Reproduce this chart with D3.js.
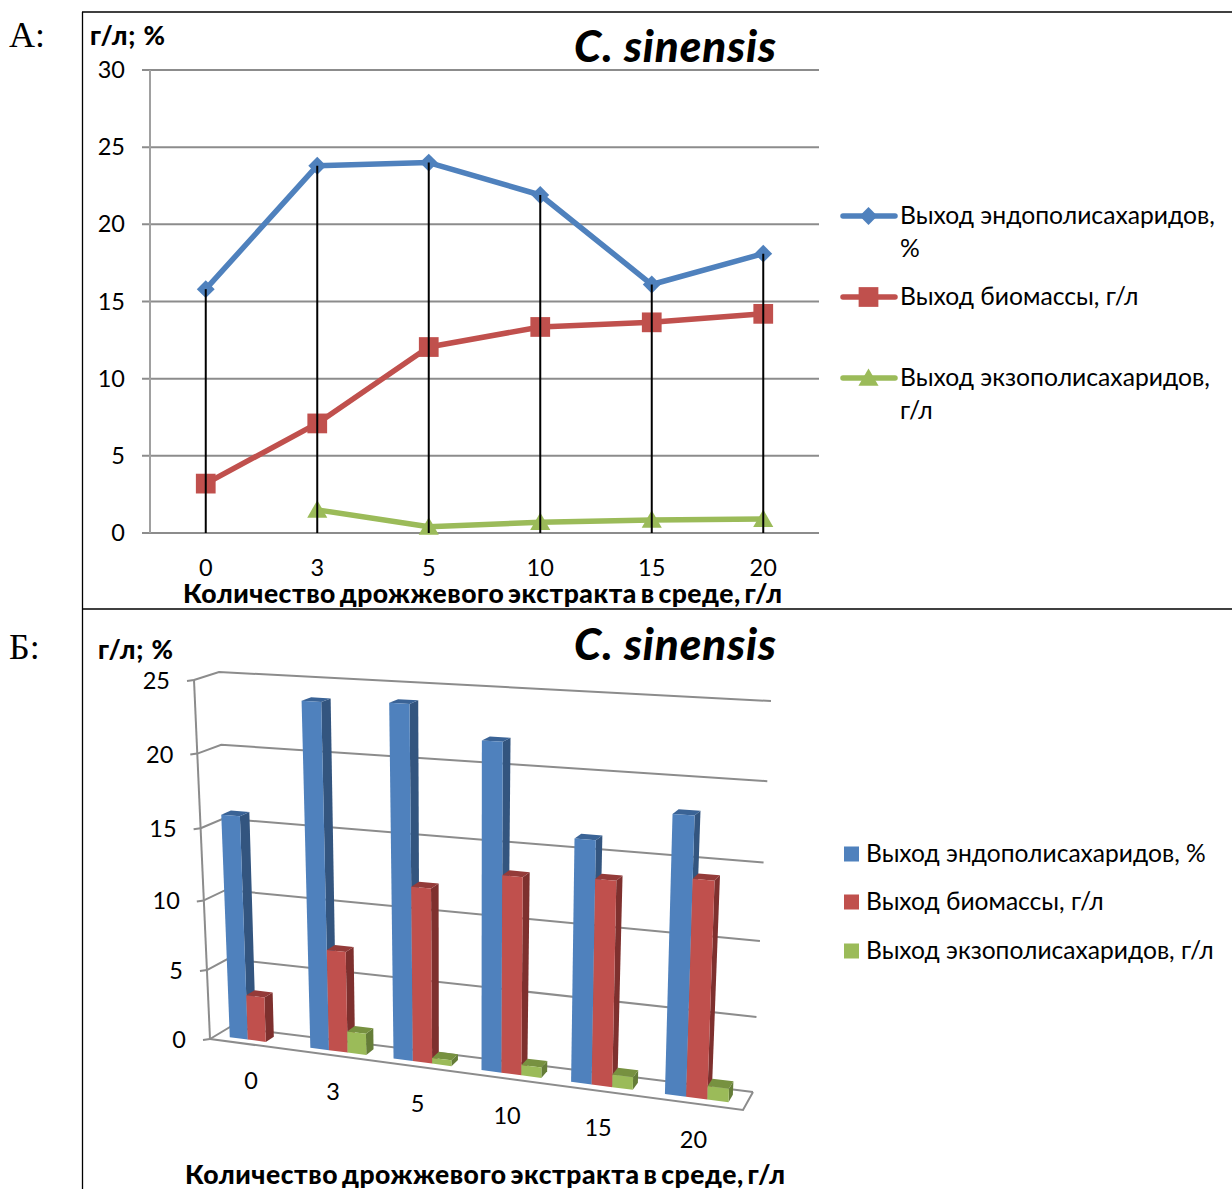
<!DOCTYPE html>
<html lang="ru">
<head>
<meta charset="utf-8">
<title>C. sinensis</title>
<script src="https://cdn.jsdelivr.net/npm/d3@7"></script>
<style>
  html, body { margin: 0; padding: 0; background: #fff; }
  svg { display: block; }
  text { font-family: Lato, "Noto Sans", "Open Sans", sans-serif; fill: #000; }
</style>
</head>
<body>
<svg id="chart" width="1232" height="1189"></svg>
<script>
// Yeast extract in the medium, g/l
const categories = ["0", "3", "5", "10", "15", "20"];

// Yields per category
const endoYield = [15.8, 23.8, 24.0, 21.9, 16.1, 18.1];
const biomassYield = [3.2, 7.1, 12.05, 13.35, 13.65, 14.2];
const exoYield = [null, 1.5, 0.4, 0.7, 0.85, 0.9];

const seriesNames = ["Выход эндополисахаридов, %", "Выход биомассы, г/л", "Выход экзополисахаридов, г/л"];
const lineTicks = [0, 5, 10, 15, 20, 25, 30];
const barTicks = [0, 5, 10, 15, 20, 25];

const xTitle = "Количество дрожжевого экстракта в среде, г/л";
const yTitle = "г/л; %";
const species = "C. sinensis";

const seriesValues = [endoYield, biomassYield, exoYield];
const faceColors = ["#4f81bd", "#c0504d", "#9bbb59"];
const sideColors = ["#33557f", "#7e302e", "#657d38"];
const topColors = ["#3a6396", "#943b39", "#779140"];
const GRID = "#8c8c8c";

const svg = d3.select("#chart");

// Frame rules and panel letters
const frame = svg.append("g").attr("stroke", "#000").attr("stroke-width", 1.3);
frame.append("line").attr("x1", 82.5).attr("x2", 82.5).attr("y1", 12).attr("y2", 1189);
frame.append("line").attr("x1", 82).attr("x2", 1232).attr("y1", 12).attr("y2", 12);
frame.append("line").attr("x1", 82).attr("x2", 1232).attr("y1", 609).attr("y2", 609);

[["А:", 47], ["Б:", 659]].forEach(([t, base]) => {
  svg.append("text").attr("x", 9).attr("y", base).text(t)
    .style("font-family", '"Liberation Serif", serif').style("font-size", "36px");
});

function heading(x, y) {
  svg.append("text").attr("x", x).attr("y", y).text(species)
    .attr("textLength", 202).attr("lengthAdjust", "spacing")
    .style("font-weight", 900).style("font-style", "italic").style("font-size", "44px");
}

function axisTitle(x, y, width) {
  svg.append("text").attr("x", x).attr("y", y).text(xTitle)
    .attr("textLength", width).attr("lengthAdjust", "spacing")
    .style("word-spacing", "-3px")
    .style("font-weight", 900).style("font-size", "26.5px");
}

/* ---------- Panel A: line chart with drop lines ---------- */
const xA = d3.scaleBand().domain(categories).range([150, 819]);
const yA = d3.scaleLinear().domain([0, 30]).range([533, 70]);
const cx = c => xA(c) + xA.bandwidth() / 2;

const gridA = svg.append("g");
gridA.selectAll("line.h").data(lineTicks).join("line")
  .attr("x1", 142).attr("x2", 819)
  .attr("y1", d => yA(d)).attr("y2", d => yA(d))
  .attr("stroke", GRID).attr("stroke-width", 2);
gridA.append("line").attr("x1", 150).attr("x2", 150).attr("y1", yA(30)).attr("y2", yA(0))
  .attr("stroke", "#a0a0a0").attr("stroke-width", 2);

svg.append("g").selectAll("text").data(lineTicks).join("text")
  .attr("x", 125).attr("y", d => yA(d) + 8).attr("text-anchor", "end")
  .style("font-size", "23.5px").text(d => d);
svg.append("g").selectAll("text").data(categories).join("text")
  .attr("x", cx).attr("y", 576).attr("text-anchor", "middle")
  .style("font-size", "23.5px").text(d => d);

const lineGen = d3.line().defined(d => d.v != null).x(d => cx(d.c)).y(d => yA(d.v));
const markerOf = i => {
  if (i === 0) return d3.symbol().type(d3.symbolSquare).size(160)();
  if (i === 1) return d3.symbol().type(d3.symbolSquare).size(390)();
  return d3.symbol().type(d3.symbolTriangle).size(175)();
};
const markerTf = i => i === 0 ? " rotate(45)" : i === 2 ? " translate(0,2)" : "";

seriesValues.forEach((vals, i) => {
  const pts = vals.map((v, k) => ({ c: categories[k], v }));
  const g = svg.append("g");
  g.append("path").datum(pts).attr("d", lineGen).attr("fill", "none")
    .attr("stroke", faceColors[i]).attr("stroke-width", 5.5).attr("stroke-linejoin", "round");
  g.selectAll("path.m").data(pts.filter(p => p.v != null)).join("path").attr("class", "m")
    .attr("d", markerOf(i)).attr("fill", faceColors[i])
    .attr("transform", d => `translate(${cx(d.c)},${yA(d.v)})${markerTf(i)}`);
});

// High-low lines from the largest value in each category to the axis
svg.append("g").selectAll("line").data(categories).join("line")
  .attr("x1", cx).attr("x2", cx)
  .attr("y1", (c, k) => yA(d3.max(seriesValues, s => s[k])))
  .attr("y2", yA(0))
  .attr("stroke", "#000").attr("stroke-width", 2);

svg.append("text").attr("x", 90).attr("y", 45).text(yTitle)
  .attr("textLength", 75).attr("lengthAdjust", "spacing")
  .style("font-weight", 900).style("font-size", "26px");
heading(574, 62);
axisTitle(183, 603, 599);

// Legend of panel A
const legendA = [
  { y: 216, lines: ["Выход эндополисахаридов,", "%"], i: 0 },
  { y: 297, lines: ["Выход биомассы, г/л"], i: 1 },
  { y: 378, lines: ["Выход экзополисахаридов,", "г/л"], i: 2 }
];
const legA = svg.append("g");
legendA.forEach(({ y, lines, i }) => {
  legA.append("line").attr("x1", 843).attr("x2", 895).attr("y1", y).attr("y2", y)
    .attr("stroke", faceColors[i]).attr("stroke-width", 5.5).attr("stroke-linecap", "round");
  legA.append("path").attr("d", markerOf(i)).attr("fill", faceColors[i])
    .attr("transform", `translate(868.5,${y})${markerTf(i)}`);
  lines.forEach((t, n) => {
    legA.append("text").attr("x", 900).attr("y", y + 8 + n * 33).text(t).style("font-size", "24.7px");
  });
});

/* ---------- Panel B: 3-D clustered columns, built on a trilinear box ---------- */
const box = {
  fl0: [210, 1039], flT: [194, 680],
  bl0: [230, 1027], blT: [219, 672],
  br0: [753, 1092], brT: [771, 701],
  fr0: [743, 1110], frT: [757, 710]
};
// Axis spacing narrows slightly towards zero under the perspective
const heightOf = d3.scaleLinear().domain(barTicks).range([0, 0.192, 0.386, 0.587, 0.795, 1]);
const lerp = (a, b, t) => [a[0] + (b[0] - a[0]) * t, a[1] + (b[1] - a[1]) * t];

function project(u, v, value) {
  const w = heightOf(value);
  const bottom = lerp(lerp(box.fl0, box.fr0, u), lerp(box.bl0, box.br0, u), v);
  const top = lerp(lerp(box.flT, box.frT, u), lerp(box.blT, box.brT, u), v);
  return lerp(bottom, top, w);
}

const groupStart = d3.scaleOrdinal().domain(categories).range([0.026, 0.178, 0.335, 0.501, 0.670, 0.847]);
const barWidth = d3.scaleLinear().domain([0, 5]).range([0.034, 0.040]);
const V0 = 0.3, V1 = 0.72;

const wall = svg.append("g").attr("fill", "none").attr("stroke", GRID).attr("stroke-width", 2);
const pathOf = pts => "M" + pts.map(p => p.join(",")).join("L");
barTicks.forEach(t => {
  wall.append("path").attr("d", pathOf([project(0, 0, t), project(0, 1, t), project(1, 1, t)]));
  const a = project(0, 0, t);
  wall.append("path").attr("d", pathOf([[a[0] - 7, a[1] + 1], a]));
});
wall.append("path").attr("d", pathOf([project(0, 0, 0), project(0, 0, 25)]));
wall.append("path").attr("d", pathOf([project(0, 0, 0), project(1, 0, 0), project(1, 1, 0)]));

const bars = svg.append("g");
categories.forEach((c, k) => {
  const w = barWidth(k);
  seriesValues.forEach((vals, s) => {
    const val = vals[k];
    if (val == null) return;
    const u0 = groupStart(c) + s * w, u1 = u0 + w;
    const g = bars.append("g");
    g.append("path").attr("fill", sideColors[s]).attr("d", pathOf([
      project(u1, V0, 0), project(u1, V1, 0), project(u1, V1, val), project(u1, V0, val)]) + "Z");
    g.append("path").attr("fill", topColors[s]).attr("d", pathOf([
      project(u0, V0, val), project(u1, V0, val), project(u1, V1, val), project(u0, V1, val)]) + "Z");
    g.append("path").attr("fill", faceColors[s]).attr("d", pathOf([
      project(u0, V0, 0), project(u1, V0, 0), project(u1, V0, val), project(u0, V0, val)]) + "Z");
  });
});

svg.append("g").selectAll("text").data(barTicks).join("text")
  .attr("x", d => project(0, 0, d)[0] - 24).attr("y", d => project(0, 0, d)[1] + 9)
  .attr("text-anchor", "end").style("font-size", "23.5px").text(d => d);

svg.append("g").selectAll("text").data(categories).join("text")
  .attr("x", (c, k) => project(groupStart(c) + 1.5 * barWidth(k), 0, 0)[0])
  .attr("y", (c, k) => project(groupStart(c) + 1.5 * barWidth(k), 0, 0)[1] + 45)
  .attr("text-anchor", "middle").style("font-size", "23.5px").text(d => d);

svg.append("text").attr("x", 98).attr("y", 659).text(yTitle)
  .attr("textLength", 75).attr("lengthAdjust", "spacing")
  .style("font-weight", 900).style("font-size", "26px");
heading(574, 660);
axisTitle(185, 1184, 600);

// Legend of panel B
const legendYB = [854, 902, 951];
const legB = svg.append("g");
seriesNames.forEach((name, i) => {
  legB.append("rect").attr("x", 844).attr("y", legendYB[i] - 7.5).attr("width", 15).attr("height", 15)
    .attr("fill", faceColors[i]);
  legB.append("text").attr("x", 866).attr("y", legendYB[i] + 8).text(name).style("font-size", "24.6px");
});
</script>
</body>
</html>
